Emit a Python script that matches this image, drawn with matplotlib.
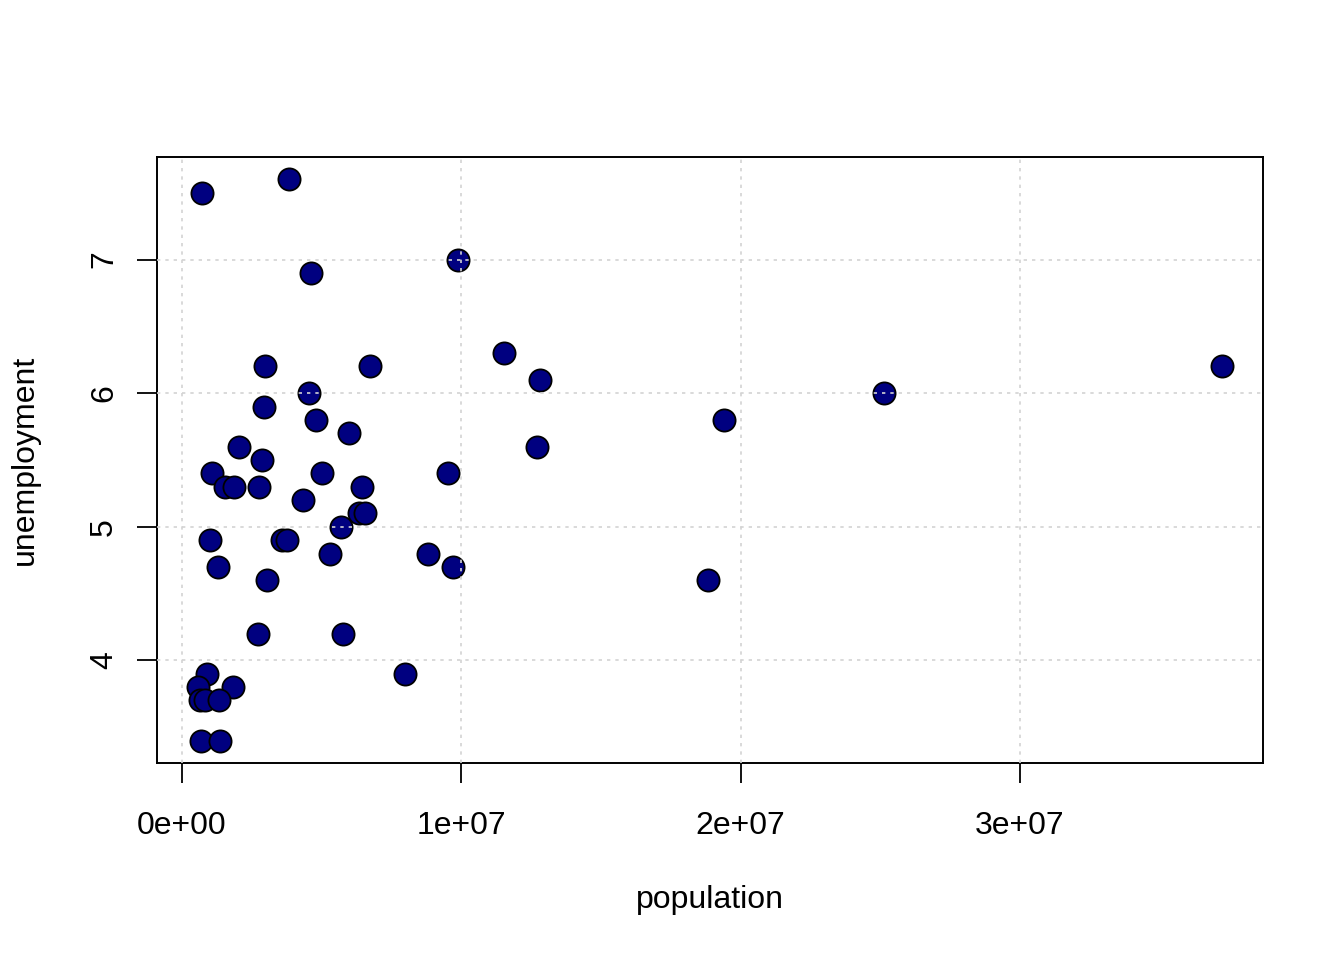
import numpy as np
import matplotlib
matplotlib.use("Agg")
import matplotlib.pyplot as plt

plt.rcParams['font.family'] = ['Liberation Sans', 'DejaVu Sans']

# population (millions) and unemployment rate
population = [0.72, 3.84, 9.89, 4.62, 11.54, 12.83, 37.24, 25.13, 19.39, 12.72,
              2.97, 6.74, 4.55, 2.94, 4.80, 5.99, 2.04, 2.87, 1.08, 5.02,
              9.53, 1.54, 1.86, 2.76, 6.45, 4.34, 6.34, 6.56, 5.70, 1.00,
              3.58, 3.76, 5.30, 8.82, 1.29, 9.71, 3.05, 18.82, 2.72, 5.77,
              0.90, 7.99, 0.57, 1.83, 0.65, 0.82, 1.33, 0.68, 1.36]
unemployment = [7.5, 7.6, 7.0, 6.9, 6.3, 6.1, 6.2, 6.0, 5.8, 5.6,
                6.2, 6.2, 6.0, 5.9, 5.8, 5.7, 5.6, 5.5, 5.4, 5.4,
                5.4, 5.3, 5.3, 5.3, 5.3, 5.2, 5.1, 5.1, 5.0, 4.9,
                4.9, 4.9, 4.8, 4.8, 4.7, 4.7, 4.6, 4.6, 4.2, 4.2,
                3.9, 3.9, 3.8, 3.8, 3.7, 3.7, 3.7, 3.4, 3.4]
x_ticks = [0, 1e7, 2e7, 3e7]
x_labels = ['0e+00', '1e+07', '2e+07', '3e+07']
y_ticks = [4, 5, 6, 7]

x = np.array(population) * 1e6
y = np.array(unemployment)

fig = plt.figure(figsize=(13.44, 9.6), dpi=100)
ax = fig.add_axes([157 / 1344, 1 - 763 / 960, (1263 - 157) / 1344, (763 - 157) / 960])

ax.scatter(x, y, s=255, c='#000080', edgecolors='black', linewidths=1.3, zorder=1)

# R style 4% padding
xr = x.max() - x.min()
yr = y.max() - y.min()
ax.set_xlim(x.min() - 0.04 * xr, x.max() + 0.04 * xr)
ax.set_ylim(y.min() - 0.04 * yr, y.max() + 0.04 * yr)

ax.set_xticks(x_ticks)
ax.set_xticklabels(x_labels)
ax.set_yticks(y_ticks)
ax.set_yticklabels([str(v) for v in y_ticks], rotation=90, va='center')

ax.tick_params(direction='out', length=14.4, width=1.3, labelsize=23, pad=20)
ax.tick_params(axis='y', pad=13)
for sp in ax.spines.values():
    sp.set_linewidth(1.4)

ax.grid(True, color='lightgray', linestyle=(0, (2, 3)), linewidth=1.2, zorder=2)
ax.set_axisbelow(False)

ax.set_xlabel('population', fontsize=23)
ax.set_ylabel('unemployment', fontsize=23)
ax.xaxis.set_label_coords(0.5, (763 - 900) / 606)
ax.xaxis.label.set_va('center')
ax.yaxis.set_label_coords((25 - 157) / 1106, 0.5)
ax.yaxis.label.set_va('center')

fig.savefig('out.png', dpi=100)
